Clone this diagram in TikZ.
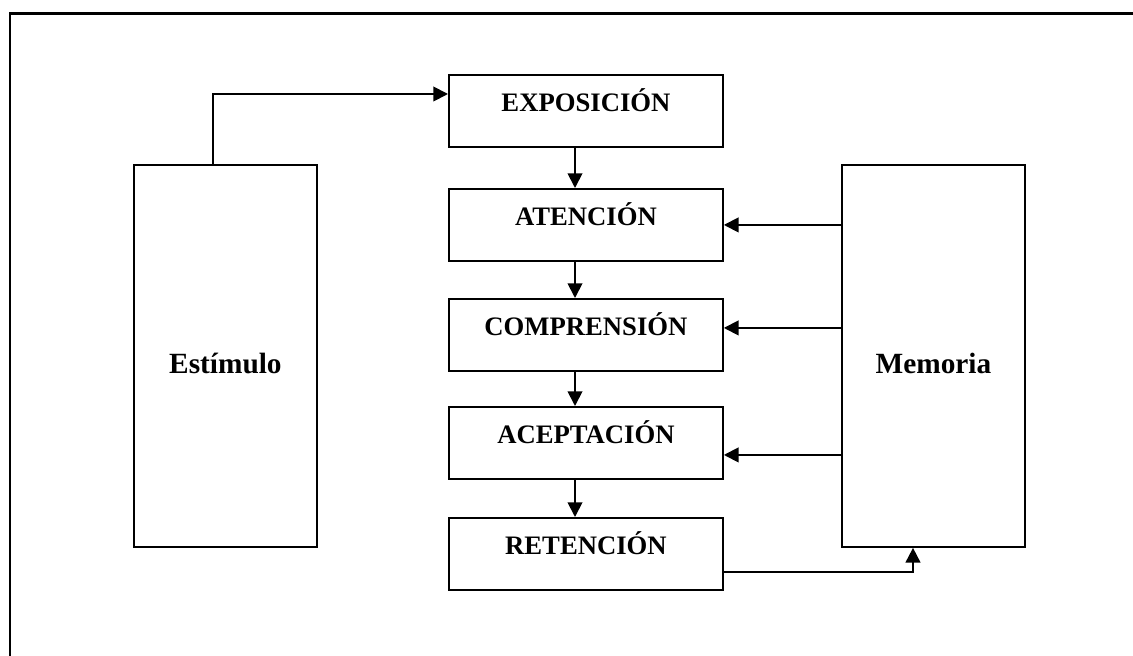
\documentclass[tikz,border=0pt]{standalone}
\usepackage{fontspec}
\setmainfont{Liberation Serif}
\usetikzlibrary{arrows.meta,positioning,calc}

\begin{document}
\begin{tikzpicture}[x=0.75pt,y=-0.75pt,
  caja/.style={draw,line width=1.4pt,inner sep=0pt,minimum width=205.5pt,
    text height=27.75pt,text depth=26.25pt,font=\bfseries\fontsize{20}{24}\selectfont},
  lado/.style={draw,line width=1.4pt,inner sep=0pt,minimum width=137.25pt,
    text height=156.75pt,text depth=129.75pt,font=\bfseries\fontsize{22}{26}\selectfont},
  flecha/.style={line width=1.4pt,-{Triangle[length=11pt,width=11pt]}}]
  \useasboundingbox (0,0) rectangle (1133,656);
  % marco (solo se ven los lados superior e izquierdo)
  \draw[line width=2pt] (1140,13.5) -- (10,13.5) -- (10,665);
  % bloques laterales
  \node[lado,anchor=north west] (est) at (133,164) {Estímulo};
  \node[lado,anchor=north west] (mem) at (841,164) {Memoria};
  % columna central
  \node[caja,anchor=north west] (exp) at (448,74) {EXPOSICIÓN};
  \node[caja,anchor=north west] (ate) at (448,188) {ATENCIÓN};
  \node[caja,anchor=north west] (com) at (448,298) {COMPRENSIÓN};
  \node[caja,anchor=north west] (ace) at (448,406) {ACEPTACIÓN};
  \node[caja,anchor=north west] (ret) at (448,517) {RETENCIÓN};
  % flechas
  \draw[flecha] ($(est.north west)+(80,0)$) |- ($(exp.north west)+(0,20)$);
  \foreach \a/\b in {exp/ate,ate/com,com/ace,ace/ret}
    \draw[flecha] ($(\a.south west)+(127,0)$) -- ($(\b.north west)+(127,0)$);
  \draw[flecha] (mem.west |- ate.east) -- (ate.east);
  \draw[flecha] ($(mem.west |- com.east)+(0,-7)$) -- ($(com.east)+(0,-7)$);
  \draw[flecha] ($(mem.west |- ace.east)+(0,12)$) -- ($(ace.east)+(0,12)$);
  \draw[flecha] ($(ret.east)+(0,18)$) -| ($(mem.south west)+(72,0)$);
\end{tikzpicture}
\end{document}
